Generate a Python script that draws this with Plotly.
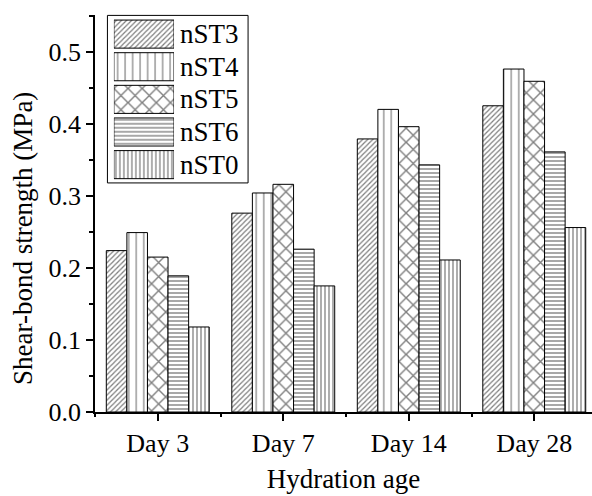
import plotly.graph_objects as go

# Hydration ages and shear-bond strength (MPa) of each mix
ages = ["Day 3", "Day 7", "Day 14", "Day 28"]
series_names = ["nST3", "nST4", "nST5", "nST6", "nST0"]
nST3 = [0.224, 0.276, 0.379, 0.425]
nST4 = [0.249, 0.304, 0.420, 0.476]
nST5 = [0.215, 0.316, 0.396, 0.459]
nST6 = [0.189, 0.226, 0.343, 0.361]
nST0 = [0.118, 0.175, 0.211, 0.256]
y_ticks = [0.0, 0.1, 0.2, 0.3, 0.4, 0.5]

values = [nST3, nST4, nST5, nST6, nST0]

# Black-and-white hatch style for each mix: (shape, tile size, solidity)
hatches = [
    ("/", 3.6, 0.34),
    ("|", 7.5, 0.16),
    ("x", 10, 0.26),
    ("-", 4, 0.34),
    ("|", 4, 0.32),
]

FONT = "Liberation Serif"

fig = go.Figure()
x_idx = list(range(len(ages)))
for name, vals, (shape, size, sol) in zip(series_names, values, hatches):
    fig.add_trace(go.Bar(
        x=x_idx, y=vals, name=name, showlegend=False,
        marker=dict(
            color="white",
            line=dict(color="black", width=1),
            pattern=dict(shape=shape, size=size, solidity=sol,
                         fgcolor="black", bgcolor="white", fillmode="overlay"),
        ),
    ))

# Legend drawn as a small inset: one hatched swatch per mix
fig.add_trace(go.Bar(
    x=[1] * len(series_names), y=list(range(len(series_names))),
    orientation="h", xaxis="x2", yaxis="y2", showlegend=False,
    width=0.86, hoverinfo="skip",
    marker=dict(
        color="white",
        line=dict(color="black", width=1),
        pattern=dict(shape=[h[0] for h in hatches],
                     size=[h[1] for h in hatches],
                     solidity=[h[2] for h in hatches],
                     fgcolor="black", bgcolor="white", fillmode="overlay"),
    ),
))

leg_top, leg_bot = 0.993, 0.582
for i, name in enumerate(series_names):
    yc = leg_top - (i + 0.5) * (leg_top - leg_bot) / len(series_names)
    fig.add_annotation(x=0.166, y=yc, xref="paper", yref="paper",
                       text=name, showarrow=False, xanchor="left",
                       yanchor="middle", font=dict(family=FONT, size=27, color="black"))

fig.add_shape(type="rect", xref="paper", yref="paper",
              x0=0.025, x1=0.308, y0=0.577, y1=0.999,
              line=dict(color="black", width=1), fillcolor="rgba(0,0,0,0)")

# Y-axis title placed as rotated text
fig.add_annotation(x=-0.145, y=0.438, xref="paper", yref="paper",
                   text="Shear-bond strength (MPa)", textangle=-90,
                   showarrow=False, xanchor="center", yanchor="middle",
                   font=dict(family=FONT, size=27, color="black"))

fig.update_layout(
    width=592, height=496,
    margin=dict(l=95, r=0, t=15, b=84),
    paper_bgcolor="white", plot_bgcolor="white",
    barmode="group", bargap=0.18, bargroupgap=0,
    font=dict(family=FONT, size=26, color="black"),
    xaxis=dict(
        range=[-0.5, 3.46], tickmode="array", tickvals=x_idx, ticktext=ages,
        showline=True, linecolor="black", linewidth=1.5,
        ticks="outside", ticklen=7, tickwidth=1.5, tickcolor="black",
        minor=dict(tickmode="linear", tick0=0.5, dtick=1, ticks="outside",
                   ticklen=3, tickwidth=1.5, tickcolor="black"),
        showgrid=False, zeroline=False,
        title=dict(text="Hydration age", font=dict(family=FONT, size=27), standoff=12),
        tickfont=dict(family=FONT, size=26),
    ),
    yaxis=dict(
        range=[0, 0.551], tickmode="array", tickvals=y_ticks,
        ticktext=[f"{v:.1f}" for v in y_ticks],
        showline=True, linecolor="black", linewidth=1.5,
        ticks="outside", ticklen=7, tickwidth=1.5, tickcolor="black",
        minor=dict(tickmode="linear", tick0=0.05, dtick=0.1, ticks="outside",
                   ticklen=4, tickwidth=1.5, tickcolor="black"),
        showgrid=False, zeroline=False,
        tickfont=dict(family=FONT, size=26),
    ),
    xaxis2=dict(domain=[0.038, 0.159], anchor="y2", range=[0, 1],
                visible=False, fixedrange=True),
    yaxis2=dict(domain=[leg_bot, leg_top], anchor="x2", range=[4.5, -0.5],
                visible=False, fixedrange=True),
)

fig.write_html("out.html")
